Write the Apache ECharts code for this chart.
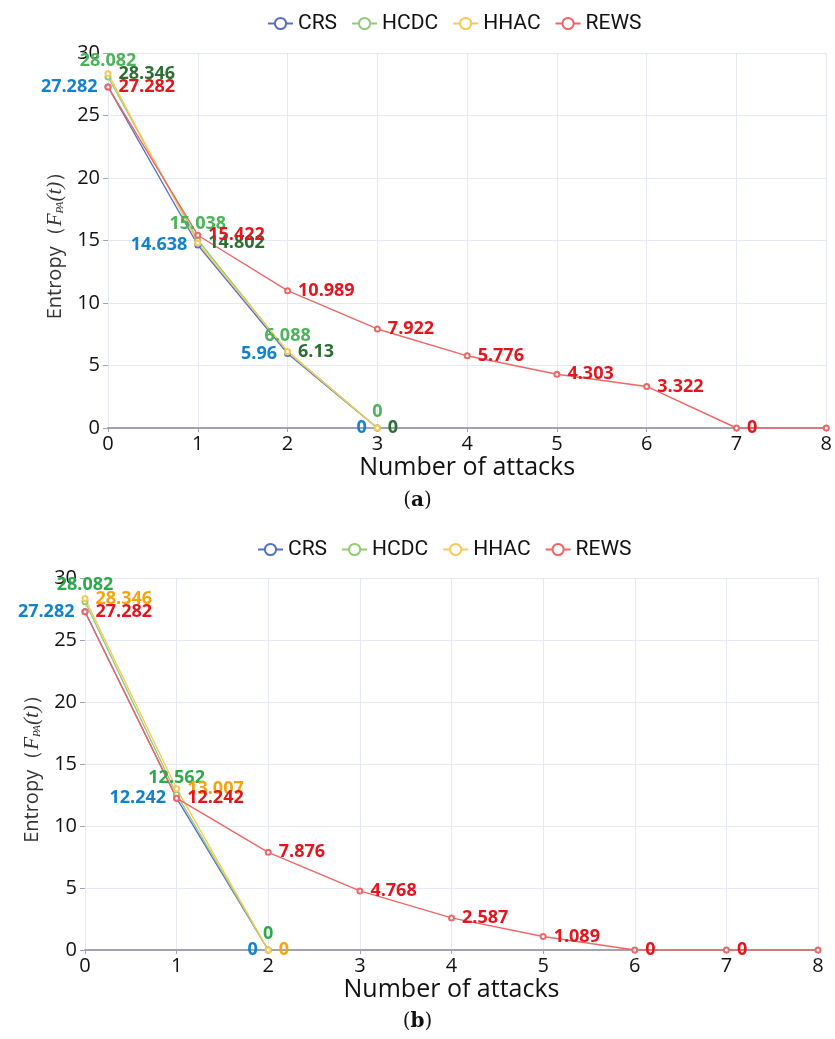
<!DOCTYPE html>
<html>
<head>
<meta charset="utf-8">
<script src="https://cdn.jsdelivr.net/npm/echarts@6/dist/echarts.min.js"></script>
<style>
  html, body { margin: 0; padding: 0; background: #fff; }
  #chart { width: 835px; height: 1039px; }
</style>
</head>
<body>
<div id="chart"></div>
<script>
// Entropy of the network after successive attacks, two scenarios (a) and (b)
const attacks = [0, 1, 2, 3, 4, 5, 6, 7, 8];
const seriesNames = ['CRS', 'HCDC', 'HHAC', 'REWS'];
const yTicks = [0, 5, 10, 15, 20, 25, 30];

// scenario (a)
const crsA  = [27.282, 14.638, 5.96, 0];
const hcdcA = [28.082, 15.038, 6.088, 0];
const hhacA = [28.346, 14.802, 6.13, 0];
const rewsA = [27.282, 15.422, 10.989, 7.922, 5.776, 4.303, 3.322, 0, 0];

// scenario (b)
const crsB  = [27.282, 12.242, 0];
const hcdcB = [28.082, 12.562, 0];
const hhacB = [28.346, 13.007, 0];
const rewsB = [27.282, 12.242, 7.876, 4.768, 2.587, 1.089, 0, 0, 0];

const lineColors = { CRS: '#5470c6', HCDC: '#91cc75', HHAC: '#fac858', REWS: '#ee6666' };

function makeSeries(name, values, idx, pos, labelColor, hideLastLabel) {
  const data = values.map((v, i) => {
    const item = { value: [attacks[i], v] };
    if (hideLastLabel && i === values.length - 1) item.label = { show: false };
    return item;
  });
  return {
    name: name,
    type: 'line',
    xAxisIndex: idx,
    yAxisIndex: idx,
    data: data,
    symbol: 'emptyCircle',
    symbolSize: 5,
    color: lineColors[name],
    lineStyle: { width: 1.4 },
    label: {
      show: true,
      position: pos,
      distance: pos === 'top' ? 4 : 7,
      color: labelColor,
      fontFamily: 'Open Sans',
      fontWeight: 'bold',
      fontSize: 18
    }
  };
}

const tickFont = { fontFamily: 'Open Sans', fontSize: 20, color: '#111' };

function xAxisCfg(idx) {
  return {
    type: 'value', gridIndex: idx, min: 0, max: 8, interval: 1,
    name: 'Number of attacks', nameLocation: 'middle', nameGap: 25,
    nameTextStyle: { fontFamily: 'Open Sans', fontSize: 25, color: '#111' },
    axisLine: { show: true, onZero: false, lineStyle: { color: '#a2a2b0', width: 2 } },
    axisTick: { show: true, length: 4, lineStyle: { color: '#a2a2b0' } },
    axisLabel: Object.assign({ margin: 6, formatter: v => String(attacks[v]) }, tickFont),
    splitLine: { show: true, lineStyle: { color: '#e4e9f3' } }
  };
}

function yAxisCfg(idx, gap) {
  return {
    type: 'value', gridIndex: idx, min: yTicks[0], max: yTicks[yTicks.length - 1], interval: 5,
    name: '{t|Entropy（}{f|F}{s|PA}{f|(t)}{t|）}',
    nameLocation: 'middle', nameGap: gap, nameRotate: 90,
    nameTextStyle: {
      rich: {
        t: { fontFamily: 'Open Sans', fontSize: 20, color: '#333' },
        f: { fontFamily: 'Liberation Serif', fontStyle: 'italic', fontSize: 21, color: '#333' },
        s: { fontFamily: 'Liberation Serif', fontStyle: 'italic', fontSize: 11, color: '#333', padding: [9, 0, 0, 0] }
      }
    },
    axisLine: { show: false },
    axisTick: { show: true, length: 5, lineStyle: { color: '#a2a2b0' } },
    axisLabel: Object.assign({ margin: 8 }, tickFont),
    splitLine: { show: true, lineStyle: { color: '#e4e9f3' } }
  };
}

const legendCfg = (left, top) => ({
  left: left, top: top, itemWidth: 25, itemHeight: 14, itemGap: 14,
  data: seriesNames,
  textStyle: { fontFamily: 'Roboto', fontSize: 21, color: '#111' }
});

const chart = echarts.init(document.getElementById('chart'), null, { renderer: 'canvas' });

chart.setOption({
  animation: false,
  backgroundColor: '#fff',
  legend: [legendCfg(262, 8), legendCfg(252, 534)],
  grid: [
    { left: 108, right: 1, top: 53, bottom: 611 },
    { left: 85, right: 17, top: 578, bottom: 89 }
  ],
  xAxis: [xAxisCfg(0), xAxisCfg(1)],
  yAxis: [yAxisCfg(0, 42), yAxisCfg(1, 39)],
  graphic: [
    { type: 'text', left: 'center', top: 491, style: { text: '{p|(}{b|a}{p|)}', rich: {
      p: { fontFamily: 'DejaVu Serif', fontSize: 20, fill: '#111' },
      b: { fontFamily: 'DejaVu Serif', fontSize: 20, fontWeight: 'bold', fill: '#111' } } } },
    { type: 'text', left: 'center', top: 1012, style: { text: '{p|(}{b|b}{p|)}', rich: {
      p: { fontFamily: 'DejaVu Serif', fontSize: 20, fill: '#111' },
      b: { fontFamily: 'DejaVu Serif', fontSize: 20, fontWeight: 'bold', fill: '#111' } } } }
  ],
  series: [
    makeSeries('CRS',  crsA,  0, 'left',  '#1282cc'),
    makeSeries('HCDC', hcdcA, 0, 'top',   '#4db35a'),
    makeSeries('HHAC', hhacA, 0, 'right', '#2b6e31'),
    makeSeries('REWS', rewsA, 0, 'right', '#e2161c', true),
    makeSeries('CRS',  crsB,  1, 'left',  '#1282cc'),
    makeSeries('HCDC', hcdcB, 1, 'top',   '#2ea84a'),
    makeSeries('HHAC', hhacB, 1, 'right', '#f5a40c'),
    makeSeries('REWS', rewsB, 1, 'right', '#e2161c', true)
  ]
});
</script>
</body>
</html>
